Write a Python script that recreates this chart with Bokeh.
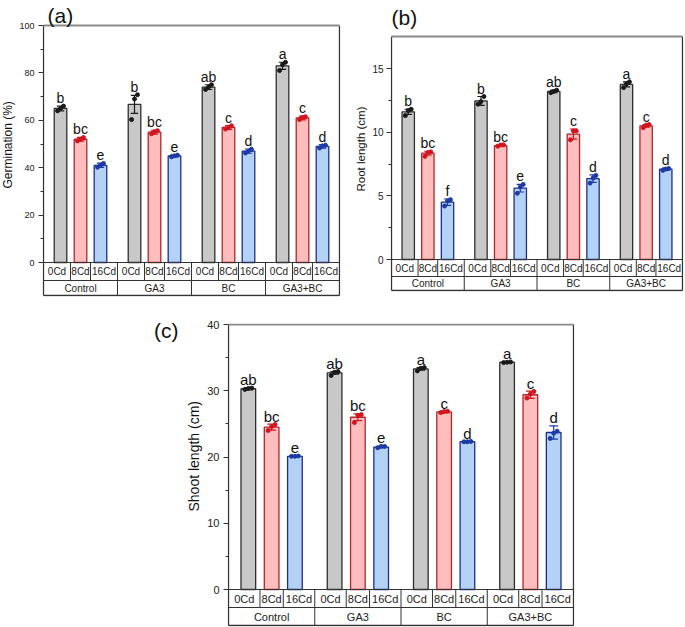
from bokeh.plotting import figure
from bokeh.models import Range1d, FixedTicker, LinearAxis, Title
from bokeh.layouts import column, row
from bokeh.embed import file_html
from bokeh.resources import INLINE
from bokeh.core.properties import value

# ---------------- data ----------------
treatments = ["Control", "GA3", "BC", "GA3+BC"]
cd_levels = ["0Cd", "8Cd", "16Cd"]

germ_mean = [65.0, 52.0, 41.0, 66.7, 55.0, 45.0, 74.0, 57.0, 47.0, 83.0, 61.0, 49.0]
germ_sd = [1.0, 0.8, 0.9, 3.8, 0.8, 0.4, 1.0, 0.8, 0.9, 1.5, 0.8, 0.7]
germ_reps = [[64.0, 65.0, 66.0], [51.3, 52.0, 52.7], [40.2, 41.0, 41.8],
             [60.3, 69.0, 70.8], [54.3, 55.2, 55.6], [44.6, 45.0, 45.3],
             [73.0, 74.0, 75.0], [56.3, 57.0, 57.7], [46.2, 47.0, 47.8],
             [81.0, 83.5, 84.5], [60.3, 61.2, 61.5], [48.3, 49.2, 49.5]]
germ_letters = ["b", "bc", "e", "b", "bc", "e", "ab", "c", "d", "a", "c", "d"]
germ_ticks = [0, 20, 40, 60, 80, 100]
germ_minor = [10, 30, 50, 70, 90]

root_mean = [11.6, 8.35, 4.5, 12.45, 8.95, 5.6, 13.2, 9.85, 6.35, 13.75, 10.5, 7.1]
root_sd = [0.2, 0.15, 0.25, 0.35, 0.05, 0.3, 0.1, 0.4, 0.3, 0.2, 0.1, 0.1]
root_reps = [[11.3, 11.7, 11.8], [8.1, 8.4, 8.45], [4.2, 4.6, 4.7],
             [12.2, 12.4, 12.8], [8.9, 9.0, 9.0], [5.2, 5.7, 5.9],
             [13.1, 13.2, 13.3], [9.4, 10.1, 10.1], [6.0, 6.4, 6.6],
             [13.5, 13.8, 13.95], [10.35, 10.55, 10.6], [7.0, 7.1, 7.15]]
root_letters = ["b", "bc", "f", "b", "bc", "e", "ab", "c", "d", "a", "c", "d"]
root_ticks = [0, 5, 10, 15]
root_minor = [2.5, 7.5, 12.5]

shoot_mean = [30.3, 24.5, 20.1, 32.7, 26.0, 21.5, 33.3, 26.8, 22.3, 34.3, 29.4, 23.7]
shoot_sd = [0.15, 0.45, 0.05, 0.2, 0.5, 0.1, 0.2, 0.1, 0.05, 0.05, 0.55, 1.0]
shoot_reps = [[30.2, 30.35, 30.4], [24.0, 24.6, 24.9], [20.1, 20.1, 20.15],
              [32.3, 32.8, 32.9], [25.2, 26.3, 26.4], [21.4, 21.6, 21.6],
              [33.0, 33.4, 33.5], [26.7, 26.85, 26.9], [22.3, 22.3, 22.35],
              [34.25, 34.3, 34.35], [28.9, 29.5, 29.9], [22.8, 23.6, 23.9]]
shoot_letters = ["ab", "bc", "e", "ab", "bc", "e", "a", "c", "d", "a", "c", "d"]
shoot_ticks = [0, 10, 20, 30, 40]
shoot_minor = [5, 15, 25, 35]

# ---------------- style ----------------
FONT = "Liberation Sans"
fills = ["#C8C8C8", "#FFBDBD", "#B4D2F6"]
edges = ["#2E2E2E", "#B0262B", "#1B2F8E"]
marks = ["#1A1A1A", "#D2141E", "#1E3AA6"]
offsets = [0.23, 0.5, 0.77]
jit = [-0.04, 0.0, 0.04]
BAR_W = 0.17
CAP = 0.05
LINE = "#333333"


def make_panel(means, sds, reps, letters, ticks, minor, ylab, title, top_val, g):
    # g: layout geometry in page pixels
    gw = (g["X4"] - g["X0"]) / 4.0
    s = g["s"]
    P0 = g["P0"]
    x_start = -(g["X0"] - g["Fl"]) / gw
    x_end = 4 + (g["Fr"] - g["X4"]) / gw
    y_end = (P0 - g["Ft"]) / s
    y_start = -(g["Fb"] - P0) / s
    tb = -(g["Tb"] - P0) / s
    r1 = -(g["R1"] - P0) / s

    p = figure(width=g["w"], height=g["h"], output_backend="svg",
               toolbar_location=None, title=None,
               x_range=Range1d(x_start, x_end), y_range=Range1d(y_start, y_end),
               min_border_left=g["Fl"] - g["ox"],
               min_border_right=g["ox"] + g["w"] - g["Fr"],
               min_border_top=g["Ft"] - g["oy"],
               min_border_bottom=g["oy"] + g["h"] - g["Fb"])
    p.frame_align = False
    p.xgrid.visible = False
    p.ygrid.visible = False
    p.xaxis.visible = False
    p.outline_line_color = None
    p.background_fill_color = "white"
    p.border_fill_color = "white"

    ax = p.yaxis[0]
    ax.ticker = FixedTicker(ticks=ticks, minor_ticks=minor)
    ax.major_tick_in = 1
    ax.major_tick_out = 4
    ax.minor_tick_in = 1
    ax.minor_tick_out = 2
    ax.axis_line_color = None
    ax.major_tick_line_color = LINE
    ax.minor_tick_line_color = LINE
    ax.major_label_text_font = FONT
    ax.major_label_text_font_size = g["tick"]
    ax.major_label_text_color = "#222222"
    ax.major_label_standoff = g["std"]

    # y-axis title as a side-panel title so it can be centred on the value region
    yt = Title(text=ylab, align="left", offset=g["Fb"] - g["ylab_bottom"],
               vertical_align=g["ylab_va"], standoff=g["ylab_std"],
               text_font=FONT, text_font_size=g["ylab"], text_font_style="normal",
               text_color="#111111")
    p.add_layout(yt, "left")

    for i in range(3):
        idx = [k * 3 + i for k in range(4)]
        xs = [k + offsets[i] for k in range(4)]
        m = [means[k] for k in idx]
        lo = [means[k] - sds[k] for k in idx]
        hi = [means[k] + sds[k] for k in idx]
        p.vbar(x=xs, top=m, bottom=0, width=BAR_W, fill_color=fills[i],
               line_color=edges[i], line_width=1.3)
        p.segment(x0=xs, y0=lo, x1=xs, y1=hi, line_color=marks[i], line_width=1.2)
        p.segment(x0=[x - CAP for x in xs], y0=hi, x1=[x + CAP for x in xs], y1=hi,
                  line_color=marks[i], line_width=1.2)
        p.segment(x0=[x - CAP for x in xs], y0=lo, x1=[x + CAP for x in xs], y1=lo,
                  line_color=marks[i], line_width=1.2)
        px, py = [], []
        for k, ii in enumerate(idx):
            for j, v in enumerate(reps[ii]):
                px.append(xs[k] + jit[j])
                py.append(v)
        p.scatter(px, py, size=4, color=marks[i])
        p.text(x=xs, y=hi, text=[letters[k] for k in idx], text_align="center",
               text_baseline="alphabetic", y_offset=-8, text_color="#111111",
               text_font=value(FONT), text_font_size=g["letter"])

    # frame lines
    p.segment(x0=[0, 4, 0], y0=[tb, tb, tb], x1=[0, 4, 4], y1=[top_val, top_val, tb],
              line_color=LINE, line_width=1.3)
    p.segment(x0=[0], y0=[top_val], x1=[4], y1=[top_val], line_color="#8A8A8A",
              line_width=2)

    # category table
    p.segment(x0=[0, 0], y0=[0, r1], x1=[4, 4], y1=[0, r1], line_color=LINE, line_width=1)
    p.segment(x0=[1, 2, 3], y0=[tb] * 3, x1=[1, 2, 3], y1=[0] * 3,
              line_color=LINE, line_width=1)
    sub = [k + b for k in range(4) for b in (0.365, 0.635)]
    p.segment(x0=sub, y0=[r1] * len(sub), x1=sub, y1=[0] * len(sub),
              line_color=LINE, line_width=1)
    bounds = [0, 0.365, 0.635, 1.0]
    cx, ct = [], []
    for k in range(4):
        for i in range(3):
            cx.append(k + (bounds[i] + bounds[i + 1]) / 2)
            ct.append(cd_levels[i])
    p.text(x=cx, y=[r1 / 2] * len(cx), text=ct, text_align="center",
           text_baseline="middle", text_font=value(FONT),
           text_font_size=g["cat"], text_color="#222222")
    p.text(x=[k + 0.5 for k in range(4)], y=[(r1 + tb) / 2] * 4,
           text=treatments, text_align="center", text_baseline="middle",
           text_font=value(FONT), text_font_size=g["cat"], text_color="#222222")

    # panel letter
    if g["title_mode"] == "inside":
        tx, ty = g["title_pos"]
        p.text(x=[(tx - g["X0"]) / gw], y=[(P0 - ty) / s], text=[title],
               text_align="left", text_baseline="alphabetic", text_color="#111111",
               text_font=value(FONT), text_font_size=g["title"])
    else:
        ty = g["title_y"]
        tick_val = round((P0 - ty) / s, 2)
        ax2 = LinearAxis(ticker=FixedTicker(ticks=[tick_val], minor_ticks=[]),
                         major_label_overrides={tick_val: title})
        ax2.axis_line_color = None
        ax2.major_tick_line_color = None
        ax2.minor_tick_line_color = None
        ax2.major_tick_out = 0
        ax2.major_tick_in = 0
        ax2.major_label_standoff = g["title_std"]
        ax2.major_label_text_font = FONT
        ax2.major_label_text_font_size = g["title"]
        ax2.major_label_text_color = "#111111"
        p.add_layout(ax2, "left")
    return p


geom_a = dict(ox=0, oy=0, w=345, h=300, Fl=40, Fr=340, Ft=0, Fb=296,
              X0=41, X4=339, P0=262, s=2.37, Tb=295, R1=280,
              tick="9px", std=4, ylab="12px", ylab_bottom=188, ylab_va="top", ylab_std=0,
              letter="14px", cat="10px",
              title="21px", title_mode="inside", title_pos=(45, 15))
geom_b = dict(ox=345, oy=0, w=340, h=300, Fl=390, Fr=683, Ft=0, Fb=291,
              X0=391, X4=682, P0=259, s=12.733, Tb=290, R1=276,
              tick="10px", std=3, ylab="11.5px", ylab_bottom=191, ylab_va="bottom", ylab_std=5,
              letter="14px", cat="10px",
              title="21px", title_mode="inside", title_pos=(391, 17))
geom_c = dict(ox=0, oy=300, w=600, h=327, Fl=227, Fr=574, Ft=323, Fb=626,
              X0=228, X4=573, P0=589, s=6.625, Tb=625, R1=607,
              tick="11px", std=4, ylab="14px", ylab_bottom=511, ylab_va="bottom", ylab_std=6,
              letter="15px", cat="11px",
              title="21px", title_mode="axis", title_y=330, title_std=2)

pa = make_panel(germ_mean, germ_sd, germ_reps, germ_letters, germ_ticks, germ_minor,
                "Germination (%)", "(a)", 100, geom_a)
pb = make_panel(root_mean, root_sd, root_reps, root_letters, root_ticks, root_minor,
                "Root length (cm)", "(b)", 17.51, geom_b)
pc = make_panel(shoot_mean, shoot_sd, shoot_reps, shoot_letters, shoot_ticks, shoot_minor,
                "Shoot length (cm)", "(c)", 40, geom_c)

layout = column(row(pa, pb), pc)
open("out.html", "w").write(file_html(layout, INLINE))
